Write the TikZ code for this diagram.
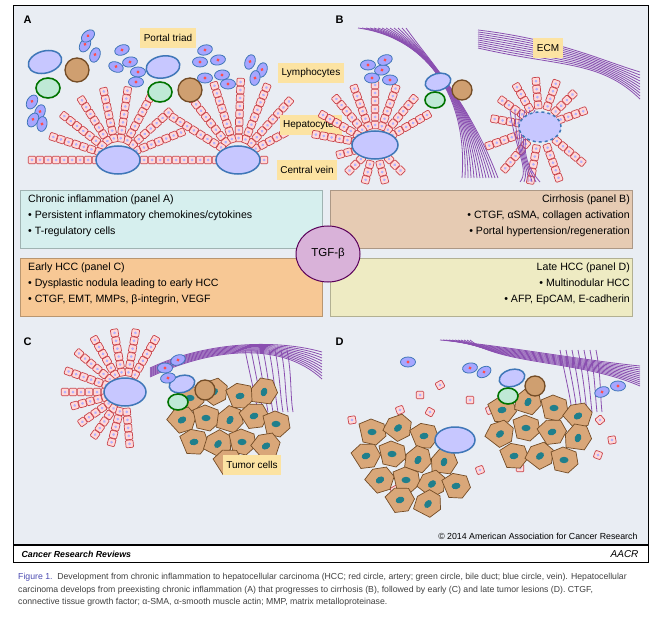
\documentclass[tikz,border=0pt]{standalone}
\usepackage{fontspec}
\setmainfont{Liberation Sans}
\usetikzlibrary{calc,shapes.geometric}
\definecolor{bgpanel}{HTML}{E9EDF3}
\definecolor{labelyel}{HTML}{FCE3A2}
\definecolor{hepred}{HTML}{C9444B}
\definecolor{veinblue}{HTML}{3F77B8}
\definecolor{ecmpurple}{HTML}{8A4FB0}
\definecolor{tumbrown}{HTML}{D9A779}
\definecolor{tumteal}{HTML}{1F7F8C}
\definecolor{boxA}{HTML}{D6EFEE}
\definecolor{boxB}{HTML}{E6CBB3}
\definecolor{boxC}{HTML}{F7C895}
\definecolor{boxD}{HTML}{EEEBC3}
\tikzset{
  hep/.style={draw=hepred,fill=red!15,rounded corners=1pt,minimum size=7.5pt,inner sep=0pt,line width=0.7pt,
    path picture={\fill[blue!30] (path picture bounding box.center) circle (1.5pt);}},
  vein/.style={ellipse,draw=veinblue,fill=blue!22,line width=1.5pt,inner sep=0pt},
  artery/.style={circle,draw=brown!60!black,fill=brown!75,line width=1.3pt,minimum size=24pt,inner sep=0pt},
  bile/.style={ellipse,draw=green!45!black,fill=green!30!teal!25,line width=1.6pt,minimum width=24pt,minimum height=20pt,inner sep=0pt},
  lym/.style={ellipse,draw=veinblue,fill=blue!35,line width=0.8pt,minimum width=15pt,minimum height=10pt,inner sep=0pt,
    path picture={\fill[red!70] (path picture bounding box.center) circle (1.6pt);}},
  tag/.style={fill=labelyel,font=\fontsize{10}{11}\selectfont,inner sep=3.5pt,minimum height=20pt},
  ecm/.style={ecmpurple,line width=0.8pt},
  infobox/.style={draw=#1!75!black,fill=#1,minimum width=302pt,minimum height=58pt,anchor=north west,line width=0.6pt},
  boxtext/.style={font=\fontsize{10.6}{16}\selectfont,inner sep=0pt},
  paneltitle/.style={font=\bfseries\fontsize{11}{12}\selectfont,anchor=north west},
  tumor/.pic={\draw[brown!60!black,fill=tumbrown,line width=0.7pt]
      (-13,-8)--(-1,-13)--(12,-8)--(14,4)--(4,13)--(-9,10)--cycle;
    \fill[tumteal] (0,0) ellipse (4.5 and 3.2);},
}
% hepatocyte fan around a central vein: centre, angles, start radius, cells
\newcommand\hepfan[4]{%
  \foreach \a in {#2}{\foreach \k in {0,...,#4}{%
    \pgfmathsetmacro\rr{#3+8*\k}
    \node[hep,rotate=\a] at ($(#1)+(\a:\rr pt)$) {};}}}
\newcommand\lymph[3]{\node[lym,rotate=#3] at (#1,#2) {};}
\begin{document}
\begin{tikzpicture}[x=1pt,y=-1pt]
  \useasboundingbox (0,0) rectangle (659,623);
  \fill[white] (0,0) rectangle (659,623);
  \fill[bgpanel] (13,5) rectangle (648,545);
  \draw[line width=0.6pt] (13,5) rectangle (648,562);
  \draw[line width=1.6pt] (13,545) -- (648,545);

  % ---- panel A
  \node[paneltitle] (tA) at (20,12) {A};
  \foreach \x in {32,40,...,264} \node[hep] at (\x,160) {};
  \hepfan{118,158}{22,42,62,82,102,122,142,162}{20}{6}
  \hepfan{238,158}{28,48,68,88,108,128,148}{20}{7}
  \node[vein,minimum width=44pt,minimum height=28pt] (cvA1) at (118,160) {};
  \node[vein,minimum width=44pt,minimum height=28pt] (cvA2) at (238,160) {};
  \node[vein,minimum width=34pt,minimum height=22pt,rotate=15] (pvA1) at (45,62) {};
  \node[artery] (arA1) at (77,70) {};
  \node[bile] (bdA1) at (48,88) {};
  \node[vein,minimum width=34pt,minimum height=22pt,rotate=10] (pvA2) at (163,67) {};
  \node[artery] (arA2) at (190,90) {};
  \node[bile] (bdA2) at (160,92) {};
  \foreach \x/\y/\r in {85/45/60,95/55/70,88/36/40,122/50/20,130/62/10,116/67/-20,138/72/0,136/82/0,
    205/50/15,218/60/10,200/62/0,222/75/5,205/78/0,228/84/0,250/62/70,262/70/70,255/78/80,
    32/102/60,40/112/70,33/120/60,42/124/80}
    {\lymph{\x}{\y}{\r}}
  \node[tag] (lbPT) at (168,38) {Portal triad};
  \node[tag] (lbLy) at (311,73) {Lymphocytes};
  \node[tag] (lbHe) at (311,125) {Hepatocytes};
  \node[tag] (lbCV) at (307,170) {Central vein};

  % ---- panel B
  \node[paneltitle] (tB) at (332,12) {B};
  \hepfan{375,145}{30,50,...,170}{20}{5}
  \hepfan{375,145}{195,225,255,285,315}{20}{2}
  \hepfan{540,127}{20,45,...,170}{22}{3}
  \hepfan{540,127}{200,230,...,340}{22}{4}
  \foreach \i in {0,...,12}
    \draw[ecm] (358+4*\i,28) .. controls (430,38+2*\i) and (468,100) .. (462+3*\i,178);
  \foreach \i in {0,...,9}
    \draw[ecm] (478,30+2*\i) .. controls (560,40+3*\i) and (600,60) .. (640,72+3*\i);
  \foreach \i in {0,...,5}
    \draw[ecm] (510+5*\i,110) .. controls (515,150) and (530,170) .. (520+4*\i,182);
  \node[vein,minimum width=46pt,minimum height=28pt] (cvB1) at (375,145) {};
  \node[vein,dashed,minimum width=42pt,minimum height=30pt] (cvB2) at (540,127) {};
  \node[vein,minimum width=26pt,minimum height=17pt,rotate=15] (pvB) at (438,82) {};
  \node[artery,minimum size=20pt] (arB) at (462,90) {};
  \node[bile,minimum width=20pt,minimum height=16pt] (bdB) at (435,100) {};
  \foreach \x/\y/\r in {368/65/0,382/70/10,372/78/0,390/80/0,385/60/20}
    {\lymph{\x}{\y}{\r}}
  \node[tag] (lbECM) at (548,48) {ECM};

  % ---- boxes
  \node[infobox=boxA] (bxA) at (20,190) {};
  \node[infobox=boxB] (bxB) at (330,190) {};
  \node[infobox=boxC] (bxC) at (20,258) {};
  \node[infobox=boxD] (bxD) at (330,258) {};
  \node[boxtext,anchor=north west,align=left] (txA) at (28,195)
    {Chronic inflammation (panel A)\\• Persistent inflammatory chemokines/cytokines\\• T-regulatory cells};
  \node[boxtext,anchor=north east,align=right] (txB) at (630,195)
    {Cirrhosis (panel B)\\• CTGF, αSMA, collagen activation\\• Portal hypertension/regeneration};
  \node[boxtext,anchor=north west,align=left] (txC) at (28,263)
    {Early HCC (panel C)\\• Dysplastic nodula leading to early HCC\\• CTGF, EMT, MMPs, β-integrin, VEGF};
  \node[boxtext,anchor=north east,align=right] (txD) at (630,263)
    {Late HCC (panel D)\\• Multinodular HCC\\• AFP, EpCAM, E-cadherin};
  \node[ellipse,draw=violet!70!black,fill=violet!30,line width=1pt,minimum width=64pt,minimum height=56pt,
    font=\fontsize{11.5}{12}\selectfont] (tgf) at (328,254) {TGF-β};

  % ---- panel C
  \node[paneltitle] (tC) at (20,334) {C};
  \foreach \i in {0,...,9}
    \draw[ecm] (150,368+\i) .. controls (210,340+\i) and (280,340) .. (322,352+3*\i);
  \foreach \i in {0,...,7}
    \draw[ecm] (245+6*\i,350) .. controls (250+6*\i,375) and (255+5*\i,395) .. (258+5*\i,412);
  \hepfan{125,392}{60,80,...,180}{20}{5}
  \hepfan{125,392}{195,215,...,275}{20}{4}
  \node[vein,minimum width=42pt,minimum height=28pt] (cvC) at (125,392) {};
  \foreach \x/\y/\r in {190/398/0,214/392/40,240/396/10,264/392/70,
    182/420/30,206/418/0,230/420/60,254/416/20,276/424/0,
    194/442/10,218/444/50,242/442/0,266/446/30,228/462/20}
    {\pic[rotate=\r] at (\x,\y) {tumor};}
  \node[vein,minimum width=26pt,minimum height=17pt,rotate=15] (pvC) at (182,384) {};
  \node[artery,minimum size=20pt] (arC) at (205,390) {};
  \node[bile,minimum width=20pt,minimum height=16pt] (bdC) at (178,402) {};
  \foreach \x/\y/\r in {165/368/0,178/360/20,168/378/10}
    {\lymph{\x}{\y}{\r}}
  \node[tag] (lbTu) at (252,465) {Tumor cells};

  % ---- panel D
  \node[paneltitle] (tD) at (332,334) {D};
  \foreach \i in {0,...,10}
    \draw[ecm] (440+3*\i,340) .. controls (500,345+2*\i) and (580,360) .. (640,366+2*\i);
  \foreach \i in {0,...,6}
    \draw[ecm] (560+6*\i,350) .. controls (565+6*\i,375) and (570+5*\i,395) .. (572+5*\i,412);
  \foreach \x/\y/\r in {420/395/0,440/385/30,400/410/20,430/412/60,470/400/0,490/410/20,
    352/420/10,600/420/40,612/440/10,598/455/70,395/490/30,520/468/0,480/470/20}
    {\node[hep,rotate=\r] at (\x,\y) {};}
  \foreach \x/\y/\r in {372/432/0,398/428/40,424/436/10,444/462/70,366/456/20,392/454/0,
    418/460/60,380/480/30,406/480/0,432/484/40,456/486/10,400/500/20,428/504/50,
    502/410/10,528/402/60,554/408/0,578/416/30,500/434/40,526/428/0,552/432/20,
    578/438/70,514/456/10,540/456/40,564/460/0}
    {\pic[rotate=\r] at (\x,\y) {tumor};}
  \node[vein,minimum width=40pt,minimum height=26pt] (cvD) at (455,440) {};
  \node[vein,minimum width=26pt,minimum height=17pt,rotate=15] (pvD) at (512,378) {};
  \node[artery,minimum size=20pt] (arD) at (535,386) {};
  \node[bile,minimum width=20pt,minimum height=16pt] (bdD) at (508,396) {};
  \foreach \x/\y/\r in {408/362/0,470/368/10,484/372/30,602/392/20,618/386/0}
    {\lymph{\x}{\y}{\r}}

  % ---- footer and caption
  \node[anchor=east,font=\fontsize{8.8}{9}\selectfont] (copy) at (641,536) {© 2014 American Association for Cancer Research};
  \node[anchor=west,font=\bfseries\itshape\fontsize{8.8}{9}\selectfont] (jour) at (18,554) {Cancer Research Reviews};
  \node[anchor=east,font=\itshape\fontsize{10}{10}\selectfont] (logo) at (642,554) {AACR};
  \node[anchor=north west,align=left,text=black!75,inner sep=0pt,font=\fontsize{8.7}{12.5}\selectfont] (cap) at (18,573)
    {{\color{blue!40!gray}Figure 1.}\ \ Development from chronic inflammation to hepatocellular carcinoma (HCC; red circle, artery; green circle, bile duct; blue circle, vein). Hepatocellular\\
     carcinoma develops from preexisting chronic inflammation (A) that progresses to cirrhosis (B), followed by early (C) and late tumor lesions (D). CTGF,\\
     connective tissue growth factor; α-SMA, α-smooth muscle actin; MMP, matrix metalloproteinase.};
\end{tikzpicture}
\end{document}
